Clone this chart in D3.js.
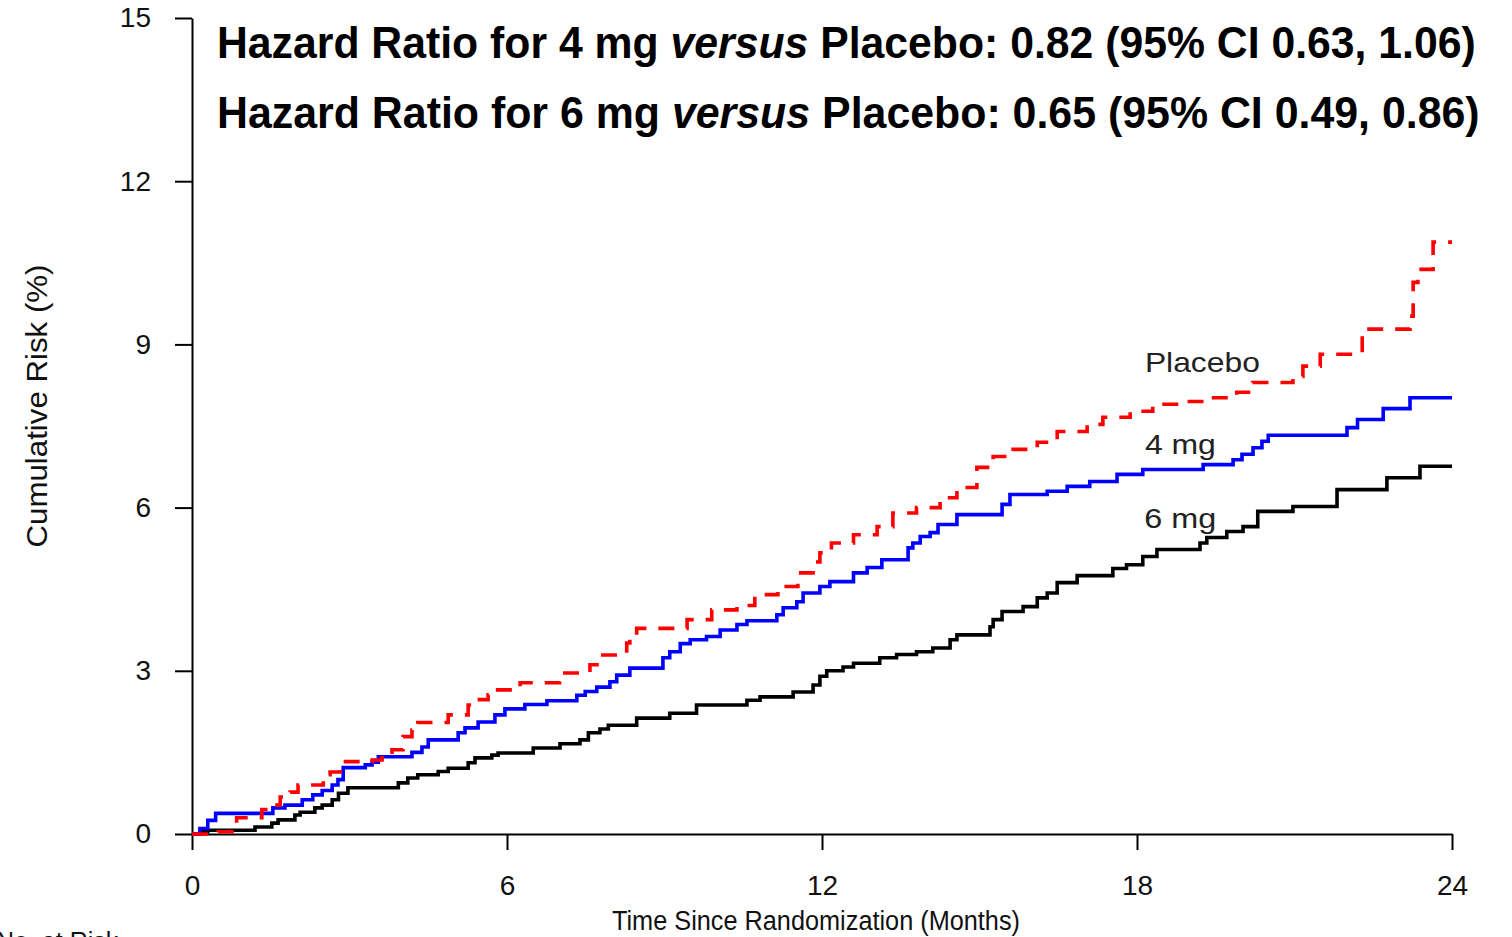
<!DOCTYPE html>
<html>
<head>
<meta charset="utf-8">
<script src="https://cdn.jsdelivr.net/npm/d3@7"></script>
<style>
  html, body { margin: 0; padding: 0; background: #ffffff; }
  svg { display: block; }
  text { font-family: "Liberation Sans", Arial, Helvetica, sans-serif; }
</style>
</head>
<body>
<svg id="chart" width="1512" height="937"></svg>
<script>
// ---------- data ----------
const xTicks = [0, 6, 12, 18, 24];
const yTicks = [0, 3, 6, 9, 12, 15];

const placeboTime = [0, 0.5, 0.85, 1.33, 1.52, 1.68, 1.87, 2.02, 2.5, 2.63, 2.82, 3.43, 3.62, 3.81, 4.02, 4.19, 4.3, 4.88, 5.26, 5.39, 5.64, 5.77, 6.25, 7.0, 7.58, 7.77, 8.28, 8.34, 8.47, 9.43, 9.9, 10.38, 10.72, 11.16, 11.54, 11.83, 11.96, 12.18, 12.6, 13.05, 13.35, 13.8, 14.25, 14.57, 14.95, 15.26, 15.64, 16.1, 16.48, 17.05, 17.35, 17.87, 18.3, 18.82, 19.39, 19.9, 20.2, 20.97, 21.16, 21.49, 22.29, 23.2, 23.26, 23.35, 23.64];
const placeboRisk = [0, 0.04, 0.3, 0.45, 0.53, 0.68, 0.77, 0.9, 1.09, 1.14, 1.33, 1.36, 1.45, 1.55, 1.79, 1.91, 2.05, 2.19, 2.37, 2.47, 2.56, 2.65, 2.78, 2.96, 3.11, 3.29, 3.51, 3.6, 3.78, 3.94, 4.12, 4.2, 4.4, 4.55, 4.8, 5.0, 5.17, 5.35, 5.5, 5.65, 5.9, 6.0, 6.18, 6.37, 6.74, 6.94, 7.07, 7.2, 7.4, 7.53, 7.66, 7.77, 7.9, 7.95, 8.02, 8.12, 8.3, 8.41, 8.6, 8.82, 9.28, 9.52, 10.14, 10.38, 10.88];

const mg4Time = [0, 0.15, 0.3, 0.45, 1.54, 1.77, 2.1, 2.3, 2.48, 2.67, 2.78, 2.88, 3.3, 3.43, 3.55, 4.19, 4.38, 4.5, 5.07, 5.2, 5.45, 5.77, 5.96, 6.34, 6.76, 7.33, 7.49, 7.71, 7.96, 8.09, 8.34, 8.97, 9.1, 9.3, 9.49, 9.8, 10.06, 10.38, 10.57, 11.14, 11.26, 11.52, 11.64, 11.96, 12.15, 12.6, 12.86, 13.14, 13.64, 13.73, 13.87, 14.06, 14.21, 14.57, 15.43, 15.58, 16.29, 16.67, 17.1, 17.62, 18.11, 19.26, 19.83, 20.0, 20.21, 20.38, 20.5, 22.0, 22.2, 22.69, 23.2];
const mg4Risk = [0, 0.1, 0.25, 0.38, 0.48, 0.53, 0.63, 0.72, 0.8, 0.9, 1.0, 1.22, 1.27, 1.32, 1.42, 1.5, 1.6, 1.73, 1.86, 1.95, 2.06, 2.19, 2.3, 2.38, 2.45, 2.55, 2.62, 2.7, 2.8, 2.92, 3.05, 3.24, 3.35, 3.5, 3.57, 3.63, 3.75, 3.85, 3.92, 4.03, 4.16, 4.27, 4.43, 4.55, 4.64, 4.8, 4.9, 5.04, 5.26, 5.35, 5.47, 5.54, 5.69, 5.87, 6.06, 6.24, 6.3, 6.39, 6.48, 6.61, 6.7, 6.79, 6.88, 6.98, 7.1, 7.22, 7.33, 7.47, 7.62, 7.82, 8.02];

const mg6Time = [0, 0.15, 0.3, 1.2, 1.52, 1.64, 1.96, 2.06, 2.34, 2.48, 2.67, 2.79, 2.97, 3.93, 4.11, 4.3, 4.69, 4.88, 5.26, 5.39, 5.71, 5.83, 6.5, 7.01, 7.39, 7.55, 7.77, 7.93, 8.47, 9.1, 9.61, 10.57, 10.82, 11.45, 11.83, 11.96, 12.09, 12.4, 12.6, 13.1, 13.42, 13.8, 14.11, 14.44, 14.57, 15.2, 15.26, 15.43, 15.83, 16.1, 16.29, 16.48, 16.86, 17.54, 17.8, 18.11, 18.38, 19.2, 19.33, 19.71, 20.02, 20.3, 20.97, 21.81, 22.76, 23.39];
const mg6Risk = [0, 0.04, 0.07, 0.13, 0.2, 0.26, 0.35, 0.4, 0.48, 0.53, 0.63, 0.75, 0.85, 0.94, 1.03, 1.09, 1.15, 1.21, 1.31, 1.4, 1.45, 1.49, 1.58, 1.66, 1.73, 1.86, 1.93, 2.0, 2.13, 2.22, 2.37, 2.46, 2.52, 2.61, 2.74, 2.9, 3.0, 3.07, 3.14, 3.24, 3.3, 3.35, 3.42, 3.57, 3.66, 3.81, 3.94, 4.09, 4.18, 4.34, 4.43, 4.62, 4.75, 4.88, 4.95, 5.1, 5.23, 5.35, 5.45, 5.56, 5.65, 5.93, 6.02, 6.33, 6.55, 6.76];

const seriesNames = ["6 mg", "4 mg", "Placebo"];
const titleLines = [
  ["Hazard Ratio for 4 mg ", "versus", " Placebo: 0.82 (95% CI 0.63, 1.06)"],
  ["Hazard Ratio for 6 mg ", "versus", " Placebo: 0.65 (95% CI 0.49, 0.86)"]
];
const xLabel = "Time Since Randomization  (Months)";
const yLabel = "Cumulative Risk (%)";
const riskLabel = "No. at Risk";

// ---------- layout ----------
const svg = d3.select("#chart");
const x = d3.scaleLinear().domain([0, 24]).range([192, 1452]);
const y = d3.scaleLinear().domain([0, 15]).range([834, 18]);

// axes
const yAxis = svg.append("g")
  .attr("transform", "translate(192,0)")
  .call(d3.axisLeft(y).tickValues(yTicks).tickSize(17).tickPadding(24).tickSizeOuter(0));
const xAxis = svg.append("g")
  .attr("transform", "translate(0,834)")
  .call(d3.axisBottom(x).tickValues(xTicks).tickSize(16).tickPadding(25).tickSizeOuter(0));
[xAxis, yAxis].forEach(a => {
  a.select(".domain").attr("stroke", "#000").attr("stroke-width", 2);
  a.selectAll(".tick line").attr("stroke", "#000").attr("stroke-width", 2);
  a.selectAll(".tick text")
    .attr("fill", "#111")
    .style("font-family", '"Liberation Sans", Arial, sans-serif')
    .style("font-size", "28px");
});

// curves
function stepData(times, risks) {
  const pts = times.map((t, i) => [t, risks[i]]);
  pts.push([24, risks[risks.length - 1]]);
  return pts;
}
const line = d3.line()
  .x(d => x(d[0]))
  .y(d => y(d[1]))
  .curve(d3.curveStepAfter);

const curves = [
  { name: seriesNames[0], data: stepData(mg6Time, mg6Risk), color: "#000000", dash: null },
  { name: seriesNames[1], data: stepData(mg4Time, mg4Risk), color: "#0000ff", dash: null },
  { name: seriesNames[2], data: stepData(placeboTime, placeboRisk), color: "#ff0000", dash: "16,12" }
];
svg.append("g").selectAll("path")
  .data(curves)
  .join("path")
  .attr("d", d => line(d.data))
  .attr("fill", "none")
  .attr("stroke", d => d.color)
  .attr("stroke-width", 3.6)
  .attr("stroke-linejoin", "miter")
  .attr("stroke-dasharray", d => d.dash);

// curve labels
const labelPos = [
  { t: 18.14, v: 5.62, w: 72 },   // 6 mg
  { t: 18.15, v: 6.98, w: 71 },   // 4 mg
  { t: 18.15, v: 8.5, w: 115 }    // Placebo
];
svg.append("g").selectAll("text")
  .data(curves)
  .join("text")
  .attr("x", (d, i) => x(labelPos[i].t))
  .attr("y", (d, i) => y(labelPos[i].v))
  .attr("fill", "#222")
  .attr("textLength", (d, i) => labelPos[i].w)
  .attr("lengthAdjust", "spacingAndGlyphs")
  .style("font-size", "28px")
  .text(d => d.name);

// axis titles
svg.append("text")
  .attr("x", 816).attr("y", 930)
  .attr("text-anchor", "middle")
  .attr("fill", "#111")
  .attr("textLength", 408)
  .attr("lengthAdjust", "spacingAndGlyphs")
  .style("font-size", "27px")
  .text(xLabel);

svg.append("text")
  .attr("transform", "translate(47,406) rotate(-90)")
  .attr("text-anchor", "middle")
  .attr("fill", "#111")
  .attr("textLength", 283)
  .attr("lengthAdjust", "spacingAndGlyphs")
  .style("font-size", "29px")
  .text(yLabel);

svg.append("text")
  .attr("x", -4).attr("y", 950)
  .attr("fill", "#111")
  .style("font-size", "25px")
  .text(riskLabel);

// title (hazard ratio lines), condensed bold
const titleSpec = [
  { y: 58, left: 217, right: 1476 },
  { y: 128, left: 217, right: 1480 }
];
titleLines.forEach((parts, i) => {
  const g = svg.append("g");
  const t = g.append("text")
    .attr("x", 0).attr("y", 0)
    .attr("fill", "#000")
    .style("font-size", "45px")
    .style("font-weight", "bold");
  parts.forEach((p, j) => {
    t.append("tspan")
      .style("font-style", j === 1 ? "italic" : "normal")
      .text(p);
  });
  const w = t.node().getComputedTextLength();
  const sx = (titleSpec[i].right - titleSpec[i].left) / w;
  g.attr("transform", `translate(${titleSpec[i].left},${titleSpec[i].y}) scale(${sx},1)`);
});
</script>
</body>
</html>
